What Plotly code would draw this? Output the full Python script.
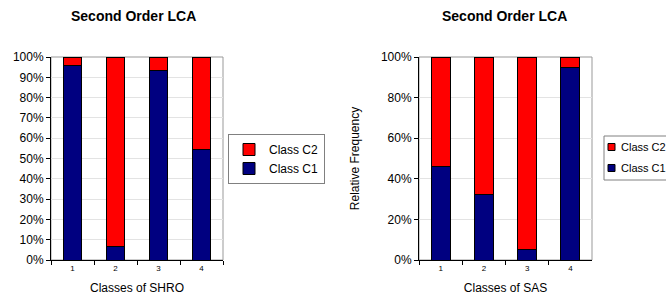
import plotly.graph_objects as go

categories = ["1", "2", "3", "4"]
shro_c1 = [0.956, 0.068, 0.935, 0.542]
shro_c2 = [1 - v for v in shro_c1]
sas_c1 = [0.463, 0.323, 0.053, 0.946]
sas_c2 = [1 - v for v in sas_c1]
series_names = ["Class C1", "Class C2"]

NAVY = "#000080"
RED = "#FF0000"
FONT = "Liberation Sans, Arial, sans-serif"

W, H = 666, 303
fig = go.Figure()

def bar(x, y, name, color, xa, ya, show):
    return go.Bar(x=x, y=y, name=name, marker=dict(color=color, line=dict(color="black", width=1)),
                  xaxis=xa, yaxis=ya, width=0.44, showlegend=show)

fig.add_trace(bar(categories, shro_c1, series_names[0], NAVY, "x", "y", True))
fig.add_trace(bar(categories, shro_c2, series_names[1], RED, "x", "y", True))
fig.add_trace(bar(categories, sas_c1, series_names[0], NAVY, "x2", "y2", False))
fig.add_trace(bar(categories, sas_c2, series_names[1], RED, "x2", "y2", False))

ydom = [(H - 260) / H, (H - 57) / H]
axis_common = dict(showline=True, linecolor="black", linewidth=1, ticks="outside",
                   tickcolor="black", ticklen=4, zeroline=False)

# second chart's legend, partly cut by the right edge as in the reference
leg2_shapes = [
    dict(type="rect", xref="paper", yref="paper", x0=604 / W, x1=680 / W,
         y0=(H - 180) / H, y1=(H - 136) / H, line=dict(color="#808080", width=1),
         fillcolor="white", layer="above"),
]
leg2_annots = []
for name, color, yc in [(series_names[1], RED, 147), (series_names[0], NAVY, 168)]:
    leg2_shapes.append(dict(type="rect", xref="paper", yref="paper", x0=608 / W, x1=615 / W,
                            y0=(H - yc - 3.5) / H, y1=(H - yc + 3.5) / H,
                            line=dict(color="black", width=1), fillcolor=color, layer="above"))
    leg2_annots.append(dict(text=name, x=619 / W, y=(H - yc) / H, xref="paper", yref="paper",
                            showarrow=False, font=dict(size=11), xanchor="left", yanchor="middle"))

fig.update_layout(
    width=W, height=H, margin=dict(l=0, r=0, t=0, b=0, autoexpand=False),
    paper_bgcolor="white", plot_bgcolor="white",
    barmode="stack", showlegend=True,
    font=dict(family=FONT, color="black", size=12),
    xaxis=dict(domain=[51 / W, 223 / W], type="category", tickson="boundaries",
               tickfont=dict(size=8), title=dict(text="Classes of SHRO", font=dict(size=12), standoff=12),
               showgrid=False, automargin=False, **axis_common),
    yaxis=dict(domain=ydom, range=[0, 1], dtick=0.1, tickformat=".0%", tickfont=dict(size=12),
               showgrid=True, gridcolor="#E3E3E3", anchor="x", automargin=False, **axis_common),
    xaxis2=dict(domain=[419 / W, 592 / W], type="category", tickson="boundaries", anchor="y2",
                tickfont=dict(size=8), title=dict(text="Classes of SAS", font=dict(size=12), standoff=12),
                showgrid=False, automargin=False, **axis_common),
    yaxis2=dict(domain=ydom, range=[0, 1], dtick=0.2, tickformat=".0%", tickfont=dict(size=12),
                showgrid=True, gridcolor="#E3E3E3", anchor="x2", automargin=False,
                title=dict(text="Relative Frequency", font=dict(size=12), standoff=18), **axis_common),
    legend=dict(x=228 / W, y=(H - 134) / H, xanchor="left", yanchor="top", traceorder="reversed",
                bgcolor="white", bordercolor="#808080", borderwidth=1, font=dict(size=12)),
    annotations=[
        dict(text="<b>Second Order LCA</b>", x=133 / W, y=(H - 16) / H, xref="paper", yref="paper",
             showarrow=False, font=dict(size=14), xanchor="center", yanchor="middle"),
        dict(text="<b>Second Order LCA</b>", x=504 / W, y=(H - 16) / H, xref="paper", yref="paper",
             showarrow=False, font=dict(size=14), xanchor="center", yanchor="middle"),
    ] + leg2_annots,
    shapes=[
        dict(type="rect", xref="x domain", yref="y domain", x0=0, x1=1, y0=0, y1=1,
             line=dict(color="#999999", width=1), layer="below"),
        dict(type="rect", xref="x2 domain", yref="y2 domain", x0=0, x1=1, y0=0, y1=1,
             line=dict(color="#999999", width=1), layer="below"),
    ] + leg2_shapes,
)

fig.write_html("out.html")
